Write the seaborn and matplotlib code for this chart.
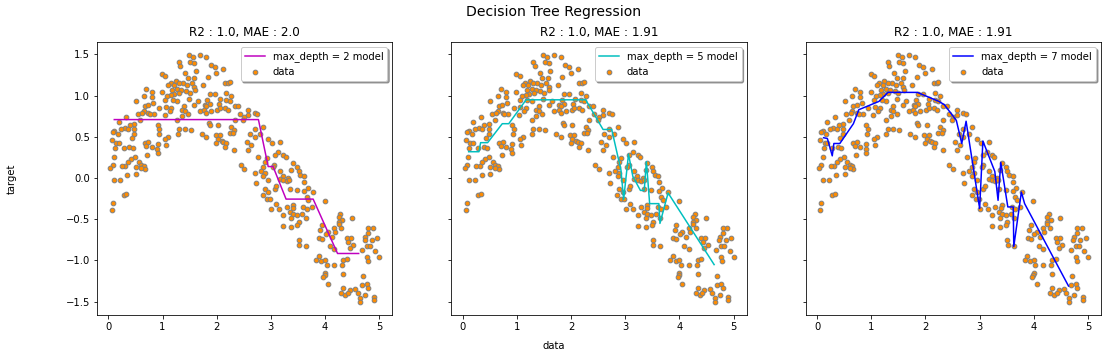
import matplotlib
matplotlib.use("Agg")
import matplotlib.pyplot as plt
import seaborn as sns
import pandas as pd

# ---- scatter data (x, target) ----
data_points = [
    (1.49,1.49),(1.56,1.47),(1.30,1.41),(1.51,1.41),(1.59,1.40),(1.33,1.36),(1.42,1.28),(0.99,1.26),
    (1.05,1.24),(1.58,1.22),(1.24,1.18),(1.15,1.15),(1.47,1.21),(1.38,1.16),(1.45,1.13),(1.54,1.15),
    (1.21,1.13),(1.30,1.15),(1.11,1.13),(1.59,1.11),(1.27,1.08),(1.35,1.07),(1.18,1.07),(1.43,1.06),
    (1.50,1.03),(1.22,1.02),(1.31,1.03),(0.99,1.04),(0.70,1.08),(0.80,1.04),(0.65,1.00),(1.16,1.01),
    (1.09,1.00),(1.05,0.95),(0.80,0.98),(1.27,0.94),(1.19,0.95),(1.48,0.96),(0.51,0.94),(0.82,0.91),
    (0.67,0.88),(0.73,0.89),(1.06,0.86),(1.40,0.87),(1.59,0.89),(0.94,0.85),(1.16,0.85),(1.36,0.83),
    (0.65,0.81),(0.74,0.79),(0.54,0.78),(0.62,0.79),(0.84,0.78),(0.77,0.78),(1.04,0.76),(1.13,0.81),
    (1.41,0.81),(1.47,0.78),(1.36,0.75),(0.33,0.74),(0.59,0.70),(1.27,0.70),(0.19,0.68),(0.48,0.66),
    (0.40,0.64),(0.91,0.65),(0.94,0.60),(0.30,0.61),(0.23,0.60),(0.36,0.59),(0.48,0.60),(0.11,0.57),
    (0.17,0.54),(0.08,0.56),(0.48,0.54),(0.93,0.54),(1.30,0.59),(1.41,0.59),(1.52,0.58),(1.28,0.53),
    (0.43,0.49),(1.11,0.50),(1.05,0.47),(0.06,0.46),(0.14,0.43),(0.19,0.43),(0.67,0.43),(0.74,0.44),
    (0.70,0.39),(0.80,0.38),(0.91,0.41),(1.07,0.40),(0.90,0.35),(0.39,0.38),(0.45,0.37),(0.28,0.37),
    (0.12,0.37),(0.10,0.26),(0.91,0.31),(0.72,0.28),(0.49,0.25),(0.42,0.23),(0.56,0.20),(0.60,0.16),
    (0.65,0.15),(0.36,0.20),(0.31,0.15),(0.25,0.15),(0.51,0.14),(0.08,0.16),(0.04,0.12),(0.67,0.11),
    (0.60,0.12),(0.51,0.05),(0.35,0.04),(0.11,-0.02),(0.22,-0.02),
    (0.28,-0.21),(0.33,-0.19),(0.08,-0.30),(0.06,-0.39),
    (1.69,1.49),(1.81,1.47),(1.89,1.37),(1.96,1.35),(2.12,1.32),(1.62,1.30),(1.99,1.28),(1.84,1.23),
    (2.15,1.16),(2.21,1.16),(2.24,1.17),(1.75,1.13),(1.60,1.07),(1.87,1.02),(1.96,1.02),(2.18,1.03),
    (2.27,1.00),(1.83,0.95),(2.07,0.96),(2.18,0.95),(1.65,0.93),(1.78,0.89),(1.87,0.90),(1.81,0.87),
    (2.04,0.90),(2.24,0.93),(2.33,0.87),(2.40,0.88),(1.69,0.82),(1.77,0.83),(1.90,0.81),(2.01,0.83),
    (2.06,0.85),(2.15,0.85),(2.21,0.83),(2.58,0.83),(1.81,0.79),(2.43,0.78),(2.70,0.79),(2.75,0.78),
    (2.58,0.77),(2.51,0.74),(2.33,0.70),(2.49,0.71),(1.85,0.67),(1.87,0.64),(2.02,0.64),(2.27,0.62),
    (2.32,0.58),(2.70,0.60),(2.86,0.62),(1.72,0.53),(1.81,0.50),(1.98,0.52),(2.06,0.52),(2.24,0.55),
    (2.30,0.55),(2.61,0.53),(2.70,0.50),(2.80,0.54),(2.02,0.47),(2.09,0.45),(2.12,0.44),(1.99,0.42),
    (2.18,0.42),(2.15,0.38),(2.55,0.44),(2.64,0.40),(2.32,0.34),(2.95,0.47),(3.02,0.43),(2.58,0.34),
    (2.77,0.26),(3.14,0.32),(3.07,0.28),(2.92,0.24),(2.89,0.19),(2.44,0.16),(2.51,0.11),(2.70,0.06),
    (2.86,0.14),(2.81,0.09),(2.89,0.06),(2.86,0.02),(3.06,0.16),(3.04,0.13),(3.17,0.08),(2.95,-0.02),
    (3.17,0.44),(3.23,0.28),(3.27,0.25),(3.41,0.18),(3.49,0.14),(3.38,0.10),(3.51,0.08),(3.22,0.02),
    (3.32,0.00),(3.54,0.04),(3.61,0.02),
    (2.72,-0.06),(2.89,-0.13),(2.95,-0.17),(2.85,-0.21),(2.93,-0.25),(2.98,-0.25),(3.01,-0.37),(3.09,-0.32),
    (3.15,-0.37),(3.23,-0.45),(3.23,-0.58),(3.07,-0.13),(3.09,-0.09),(3.17,-0.01),(3.23,-0.02),(3.29,-0.04),
    (3.34,-0.02),(3.35,-0.13),(3.29,-0.35),(3.35,-0.41),
    (3.48,-0.15),(3.62,-0.05),(3.68,-0.12),(3.62,-0.16),(3.78,-0.17),(3.66,-0.23),(3.69,-0.27),(3.41,-0.33),
    (3.40,-0.36),(3.60,-0.35),(3.66,-0.37),(3.75,-0.35),(3.99,-0.28),(3.41,-0.43),(3.48,-0.45),(3.57,-0.44),
    (3.64,-0.49),(3.38,-0.49),(3.51,-0.53),(3.49,-0.57),(3.38,-0.59),(3.94,-0.57),(4.28,-0.43),(4.25,-0.47),
    (4.31,-0.51),(4.25,-0.53),(4.49,-0.49),(4.17,-0.61),(4.30,-0.60),(4.25,-0.56),(3.91,-0.63),(4.05,-0.66),
    (4.19,-0.65),(3.89,-0.73),(3.94,-0.74),(4.01,-0.68),(4.12,-0.72),(4.40,-0.73),(4.48,-0.73),(4.43,-0.77),
    (4.52,-0.81),(4.46,-0.85),(4.68,-0.87),(4.77,-0.83),(4.74,-0.71),(4.80,-0.67),(4.88,-0.61),(4.80,-0.61),
    (4.73,-0.75),(4.86,-0.75),(4.96,-0.73),(4.83,-0.83),(4.93,-0.89),(5.00,-0.96),(4.77,-0.96),(4.79,-1.01),
    (3.51,-0.75),(3.52,-0.81),(3.64,-0.83),(4.09,-0.82),(4.17,-0.86),(3.88,-0.94),(3.83,-1.00),(3.93,-1.01),
    (4.00,-1.00),(4.03,-1.06),(4.17,-1.05),(4.34,-1.00),(4.40,-0.98),(4.32,-1.05),(4.00,-1.15),(3.99,-1.18),
    (3.97,-1.20),(4.34,-1.17),(4.05,-1.28),(4.70,-1.19),(4.69,-1.30),(4.77,-1.29),(4.80,-1.33),(4.34,-1.33),
    (4.46,-1.36),(4.56,-1.35),(4.60,-1.39),(4.30,-1.40),(4.37,-1.42),(4.42,-1.40),(4.74,-1.42),(4.65,-1.46),
    (4.65,-1.50),(4.90,-1.44),(4.90,-1.48),
]

# ---- model predictions (sorted test x, prediction) ----
depth2_x = [0.11, 2.77, 2.95, 3.04, 3.28, 3.78, 4.23, 4.62]
depth2_y = [0.71, 0.71, 0.14, 0.14, -0.255, -0.255, -0.915, -0.915]

depth5_x = [0.11, 0.30, 0.33, 0.46, 0.73, 0.85, 1.17, 2.27, 2.59, 2.75, 2.85, 2.92, 2.97,
            3.06, 3.14, 3.28, 3.35, 3.39, 3.45, 3.62, 3.64, 3.79, 4.64]
depth5_y = [0.32, 0.32, 0.43, 0.43, 0.66, 0.66, 0.95, 0.95, 0.59, 0.59, 0.30, 0.10, -0.26,
            0.29, 0.02, -0.15, -0.15, 0.20, -0.31, -0.31, -0.55, -0.18, -1.05]

depth7_x = [0.12, 0.19, 0.28, 0.31, 0.42, 0.67, 0.77, 1.14, 1.31, 1.85, 2.25, 2.35, 2.57,
            2.67, 2.75, 3.00, 3.06, 3.28, 3.34, 3.39, 3.52, 3.62, 3.63, 3.77, 3.83, 4.64]
depth7_y = [0.49, 0.48, 0.27, 0.42, 0.42, 0.66, 0.83, 0.93, 1.04, 1.04, 0.93, 0.89, 0.70,
            0.42, 0.69, -0.37, 0.45, 0.08, -0.27, 0.19, -0.35, -0.35, -0.83, -0.17, -0.31, -1.31]

depths = [2, 5, 7]
line_colors = ["m", "c", "b"]
titles = ["R2 : 1.0, MAE : 2.0", "R2 : 1.0, MAE : 1.91", "R2 : 1.0, MAE : 1.91"]

data_x = [p[0] for p in data_points]
data_y = [p[1] for p in data_points]
df = pd.DataFrame({"data": data_x, "target": data_y})
preds = [(depth2_x, depth2_y), (depth5_x, depth5_y), (depth7_x, depth7_y)]

plt.rcParams["font.family"] = ["DejaVu Sans"]
fig, axes = plt.subplots(1, 3, sharey=True, figsize=(1108 / 72, 357 / 72), dpi=72)
fig.subplots_adjust(left=0.0875, right=0.9937, bottom=0.118, top=0.882, wspace=0.2)

for ax, d, col, title, (px, py) in zip(axes, depths, line_colors, titles, preds):
    sns.lineplot(x=px, y=py, color=col, sort=False, estimator=None, ax=ax,
                 linewidth=1.5, label=f"max_depth = {d} model")
    sns.scatterplot(data=df, x="data", y="target", s=22, color="darkorange",
                    edgecolor="grey", linewidth=1, ax=ax, label="data")
    ax.set_title(title, fontsize=12)
    ax.set_xlabel("")
    ax.set_ylabel("")
    ax.set_xlim(-0.21, 5.24)
    ax.set_ylim(-1.66, 1.65)
    ax.set_xticks([0, 1, 2, 3, 4, 5])
    ax.legend(loc="upper right", shadow=True, fontsize=10)
    ax.tick_params(labelsize=10)

axes[0].set_yticks([-1.5, -1.0, -0.5, 0.0, 0.5, 1.0, 1.5])
fig.suptitle("Decision Tree Regression", fontsize=14, y=0.985)
fig.text(0.5, 0.03, "data", ha="center", va="center", fontsize=10)
fig.text(0.011, 0.5, "target", ha="center", va="center", rotation=90, fontsize=10)

fig.savefig("out.png", dpi=72)
